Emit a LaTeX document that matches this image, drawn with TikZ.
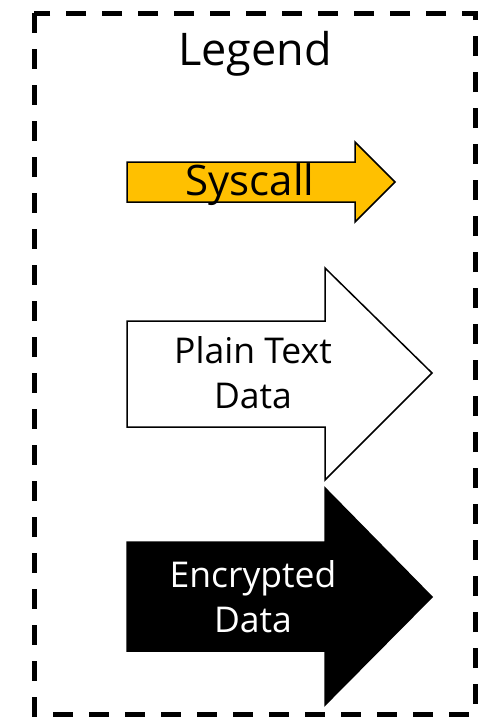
\documentclass[tikz,border=0pt]{standalone}
\usepackage{fontspec}
\setmainfont{Open Sans}
\usetikzlibrary{positioning}
\definecolor{sysorange}{HTML}{FFC000}
\tikzset{
  legendframe/.style={line width=5pt,dash pattern=on 20pt off 16pt},
  arrowshape/.style={draw=black,line width=1.5pt,line join=miter},
  lbl/.style={align=center,inner sep=0pt,font=\fontsize{35.5}{45}\selectfont}}

\begin{document}
\begin{tikzpicture}[x=1pt,y=-1pt]
  \useasboundingbox (0,0) rectangle (492,720);
  \draw[legendframe] (34,13) rectangle (475,714);
  \node[inner sep=0pt,anchor=base,font=\fontsize{45}{54}\selectfont] (title) at (255,65) {Legend};
  % syscall arrow
  \draw[arrowshape,fill=sysorange] (127,162) -- (355,162) -- (355,142) -- (395,182)
    -- (355,222) -- (355,202) -- (127,202) -- cycle;
  \node[lbl,anchor=base,font=\fontsize{42}{48}\selectfont] (sys) at (250,195) {Syscall};
  % plain text arrow
  \draw[arrowshape,fill=white] (127,321) -- (325,321) -- (325,268) -- (432,373)
    -- (325,480) -- (325,427) -- (127,427) -- cycle;
  \node[lbl] (plain) at (253,373) {Plain Text\\Data};
  % encrypted arrow
  \draw[arrowshape,fill=black] (127,542) -- (325,542) -- (325,488) -- (432,597)
    -- (325,705) -- (325,651) -- (127,651) -- cycle;
  \node[lbl,text=white] (enc) at (253,597) {Encrypted\\Data};
\end{tikzpicture}
\end{document}
